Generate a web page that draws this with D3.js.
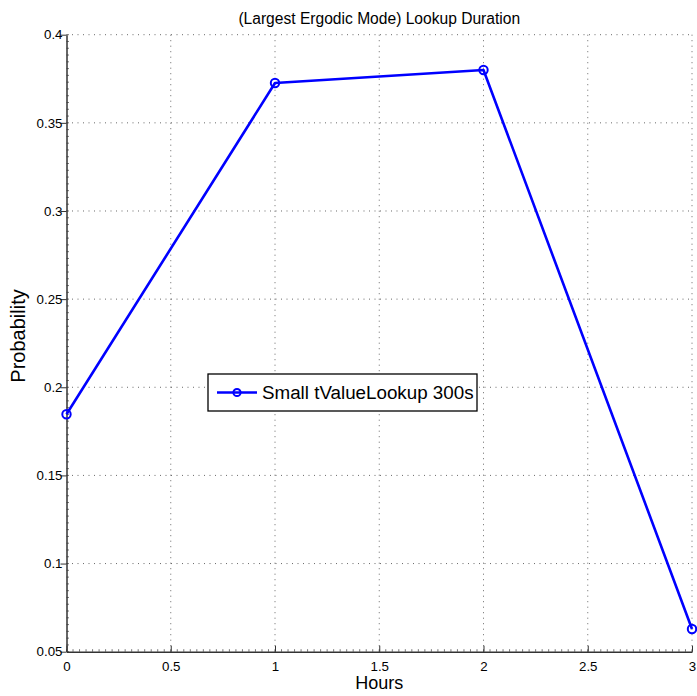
<!DOCTYPE html>
<html>
<head>
<meta charset="utf-8">
<script src="https://cdn.jsdelivr.net/npm/d3@7"></script>
<style>
  html, body { margin: 0; padding: 0; background: #fff; }
  svg { display: block; font-family: "Liberation Sans", Arial, Helvetica, sans-serif; }
</style>
</head>
<body>
<svg id="chart" width="697" height="696"></svg>
<script>
// Lookup duration probabilities per hour
const hours = [0, 1, 2, 3];
const probability = [0.1847, 0.3726, 0.3800, 0.0629];
const seriesName = "Small tValueLookup 300s";
const xTicks = [0, 0.5, 1, 1.5, 2, 2.5, 3];
const yTicks = [0.05, 0.1, 0.15, 0.2, 0.25, 0.3, 0.35, 0.4];

const svg = d3.select("#chart");
const margin = { left: 66.5, right: 5, top: 34.7, bottom: 44.3 };
const W = 697, H = 696;

const x = d3.scaleLinear().domain([0, 3]).range([margin.left, W - margin.right]);
const y = d3.scaleLinear().domain([0.05, 0.4]).range([H - margin.bottom, margin.top]);

const gridColor = "#444";

// Dotted grid
const grid = svg.append("g");
grid.selectAll("line.gx").data(xTicks.slice(1)).join("line")
  .attr("x1", d => x(d)).attr("x2", d => x(d))
  .attr("y1", y(0.05)).attr("y2", y(0.4))
  .attr("stroke", gridColor).attr("stroke-width", 0.8)
  .attr("stroke-dasharray", "1,4.5");
grid.selectAll("line.gy").data(yTicks.slice(1)).join("line")
  .attr("y1", d => y(d)).attr("y2", d => y(d))
  .attr("x1", x(0)).attr("x2", x(3))
  .attr("stroke", gridColor).attr("stroke-width", 0.8)
  .attr("stroke-dasharray", "1,4.5");

// Minor ticks
const xMinor = d3.range(0, 3.0001, 0.5 / 16);
const yMinor = d3.range(0.05, 0.40001, 0.05 / 13);
const axisColor = "#333";
svg.append("g").selectAll("line").data(xMinor).join("line")
  .attr("x1", d => x(d)).attr("x2", d => x(d))
  .attr("y1", y(0.05)).attr("y2", y(0.05) - 2.5)
  .attr("stroke", "#555").attr("stroke-width", 0.8);
svg.append("g").selectAll("line").data(yMinor).join("line")
  .attr("y1", d => y(d)).attr("y2", d => y(d))
  .attr("x1", x(0)).attr("x2", x(0) + 2.5)
  .attr("stroke", "#555").attr("stroke-width", 0.8);

// Axes
const xAxis = svg.append("g")
  .attr("transform", `translate(0,${y(0.05)})`)
  .call(d3.axisBottom(x).tickValues(xTicks).tickFormat(d3.format("")).tickSizeInner(-6).tickSizeOuter(0).tickPadding(10));
const yAxis = svg.append("g")
  .attr("transform", `translate(${x(0)},0)`)
  .call(d3.axisLeft(y).tickValues(yTicks).tickFormat(d3.format("")).tickSizeInner(6).tickSizeOuter(0).tickPadding(3));

[xAxis, yAxis].forEach(a => {
  a.select(".domain").attr("stroke", axisColor).attr("stroke-width", 1.5);
  a.selectAll(".tick line").attr("stroke", axisColor).attr("stroke-width", 1);
  a.selectAll(".tick text").attr("fill", "#000").attr("font-size", 13.3)
    .attr("font-family", "Liberation Sans, Arial, sans-serif");
});
yAxis.selectAll(".tick line").attr("x1", -6).attr("x2", 0);
xAxis.selectAll(".tick line").attr("y1", 0).attr("y2", -6);
yAxis.selectAll(".tick text").attr("x", -4);

// Series line
const line = d3.line().x((d, i) => x(hours[i])).y(d => y(d));
svg.append("path").datum(probability)
  .attr("d", line).attr("fill", "none")
  .attr("stroke", "#0000ff").attr("stroke-width", 2.6).attr("stroke-linejoin", "round");
svg.append("g").selectAll("circle").data(probability).join("circle")
  .attr("cx", (d, i) => x(hours[i])).attr("cy", d => y(d)).attr("r", 4.2)
  .attr("fill", "none").attr("stroke", "#0000ff").attr("stroke-width", 2);

// Title and axis labels
svg.append("text").attr("x", (x(0) + x(3)) / 2).attr("y", 24)
  .attr("text-anchor", "middle").attr("font-size", 15.6).text("(Largest Ergodic Mode) Lookup Duration");
svg.append("text").attr("x", (x(0) + x(3)) / 2).attr("y", 689)
  .attr("text-anchor", "middle").attr("font-size", 18).text("Hours");
svg.append("text").attr("transform", `translate(25,336) rotate(-90)`)
  .attr("text-anchor", "middle").attr("font-size", 20).text("Probability");

// Legend
const lg = svg.append("g").attr("transform", "translate(208,374)");
lg.append("rect").attr("width", 269).attr("height", 37)
  .attr("fill", "#fff").attr("stroke", "#000").attr("stroke-width", 1.3);
lg.append("line").attr("x1", 9).attr("x2", 49).attr("y1", 18.5).attr("y2", 18.5)
  .attr("stroke", "#0000ff").attr("stroke-width", 2.6);
lg.append("circle").attr("cx", 29).attr("cy", 18.5).attr("r", 3.6)
  .attr("fill", "none").attr("stroke", "#0000ff").attr("stroke-width", 2);
lg.append("text").attr("x", 54).attr("y", 25).attr("font-size", 18.8).text(seriesName);
</script>
</body>
</html>
